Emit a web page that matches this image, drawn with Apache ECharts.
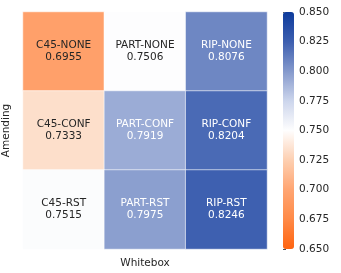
<!DOCTYPE html>
<html><head><meta charset="utf-8">
<script src="https://cdn.jsdelivr.net/npm/echarts@6/dist/echarts.min.js"></script>
<style>html,body{margin:0;padding:0;background:#fff}#c{width:341px;height:273px}</style>
</head><body><div id="c"></div>
<script>
const whitebox = ['C45', 'PART', 'RIP'];
const amending = ['NONE', 'CONF', 'RST'];
const values = [
  [0.6955, 0.7506, 0.8076],
  [0.7333, 0.7919, 0.8204],
  [0.7515, 0.7975, 0.8246]
];
const colorTicks = [0.650, 0.675, 0.700, 0.725, 0.750, 0.775, 0.800, 0.825, 0.850];

const FONT = 'DejaVu Sans';
const data = [];
amending.forEach((a, r) => {
  whitebox.forEach((w, c) => {
    const v = values[r][c];
    data.push({
      value: [c, r, v],
      name: w + '-' + a,
      label: { color: v > 0.78 ? '#ffffff' : '#262626' }
    });
  });
});

const chart = echarts.init(document.getElementById('c'), null, { renderer: 'canvas' });
chart.setOption({
  animation: false,
  textStyle: { fontFamily: FONT },
  grid: [
    { left: 23, right: 74, top: 12, bottom: 24, containLabel: false, outerBoundsMode: 'none' },
    { left: 283, width: 11, top: 12, height: 237, containLabel: false, outerBoundsMode: 'none' }
  ],
  xAxis: [
    { type: 'category', data: whitebox, gridIndex: 0,
      axisLine: { show: false }, axisTick: { show: false }, axisLabel: { show: false },
      splitLine: { show: false },
      name: 'Whitebox', nameLocation: 'middle', nameGap: 9,
      nameTextStyle: { fontFamily: FONT, fontSize: 10.5, color: '#262626' } },
    { type: 'value', gridIndex: 1, show: false, min: 0, max: 1 }
  ],
  yAxis: [
    { type: 'category', data: amending, inverse: true, gridIndex: 0,
      axisLine: { show: false }, axisTick: { show: false }, axisLabel: { show: false },
      splitLine: { show: false },
      name: 'Amending', nameLocation: 'middle', nameGap: 11, nameRotate: 90,
      nameTextStyle: { fontFamily: FONT, fontSize: 10.5, color: '#262626' } },
    { type: 'value', gridIndex: 1, position: 'right', min: colorTicks[0], max: colorTicks[colorTicks.length - 1],
      interval: 0.025,
      axisLine: { show: false },
      axisTick: { show: true, length: 3, lineStyle: { color: '#262626', width: 0.8 } },
      axisLabel: { show: true, margin: 5, fontFamily: FONT, fontSize: 10.5, color: '#262626',
        formatter: v => v.toFixed(3) },
      splitLine: { show: false } }
  ],
  visualMap: {
    type: 'continuous',
    min: 0.65, max: 0.85,
    seriesIndex: 0,
    calculable: false,
    show: true,
    orient: 'vertical',
    left: 283, top: 12,
    itemWidth: 11, itemHeight: 237,
    padding: 0,
    text: ['', ''],
    showLabel: false,
    inRange: {
      color: ['#ff6410', '#ff8a47', '#ffa572', '#fdcfb1', '#fefefe', '#ccd5ec', '#8499cc', '#3d5fb0', '#0d3b9c']
    }
  },
  series: [
    {
      type: 'heatmap',
      xAxisIndex: 0, yAxisIndex: 0,
      data: data,
      itemStyle: { borderColor: '#ffffff', borderWidth: 0.6 },
      label: {
        show: true,
        fontFamily: FONT, fontSize: 10.5, lineHeight: 12,
        formatter: p => p.name + '\n' + p.value[2].toFixed(4)
      },
      emphasis: { disabled: true }
    },
    {
      type: 'scatter', xAxisIndex: 1, yAxisIndex: 1, data: [], silent: true
    }
  ]
});
</script></body></html>
